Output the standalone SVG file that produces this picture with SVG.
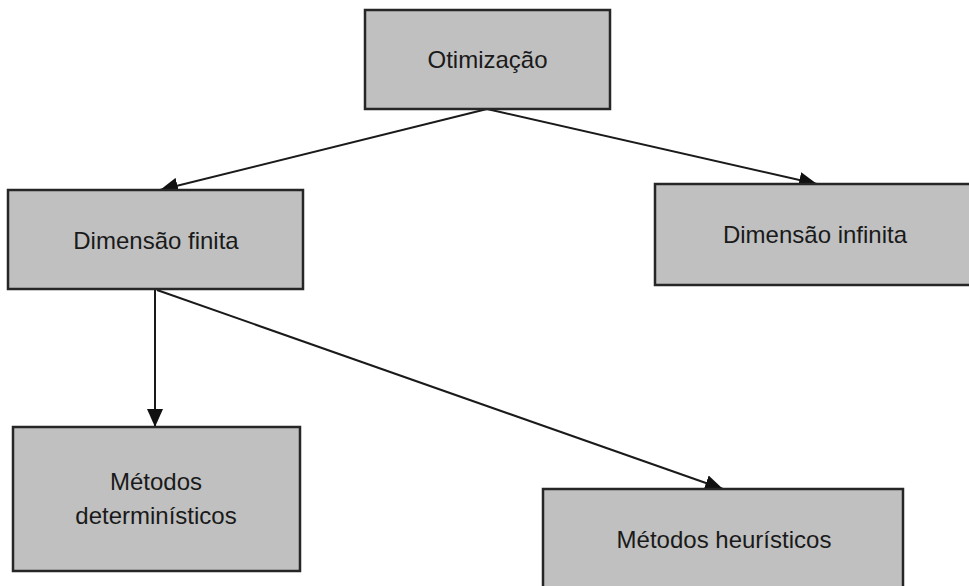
<svg xmlns="http://www.w3.org/2000/svg" width="969" height="586" viewBox="0 0 969 586">
<style>
.box{fill:#c0c0c0;stroke:#262626;stroke-width:2.5}
.lbl{font-family:"Liberation Sans",Arial,sans-serif;font-size:24px;fill:#1a1a1a;text-anchor:middle}
.con{stroke:#1a1a1a;stroke-width:2;fill:none;marker-end:url(#ah)}
</style>
<defs>
<marker id="ah" markerUnits="userSpaceOnUse" markerWidth="20" markerHeight="16" refX="18" refY="8" orient="auto">
<path d="M0,0 L18,8 L0,16 Z" fill="#111"/>
</marker>
</defs>
<rect width="969" height="586" fill="#fff"/>
<g id="connectors">
<line class="con" x1="487" y1="109" x2="160" y2="190"/>
<line class="con" x1="487" y1="109" x2="817" y2="184"/>
<line class="con" x1="155" y1="290" x2="155" y2="427"/>
<line class="con" x1="157" y1="290" x2="723" y2="489"/>
</g>
<g id="otimizacao">
<rect class="box" x="365" y="10" width="245" height="99"/>
<text class="lbl" x="487.5" y="68">Otimização</text>
</g>
<g id="dimensao-finita">
<rect class="box" x="8" y="190" width="295" height="99"/>
<text class="lbl" x="156" y="249">Dimensão finita</text>
</g>
<g id="dimensao-infinita">
<rect class="box" x="655" y="184" width="320" height="101"/>
<text class="lbl" x="815" y="243">Dimensão infinita</text>
</g>
<g id="metodos-deterministicos">
<rect class="box" x="13" y="427" width="287" height="144"/>
<text class="lbl" x="156" y="490">Métodos</text>
<text class="lbl" x="156" y="524">determinísticos</text>
</g>
<g id="metodos-heuristicos">
<rect class="box" x="543" y="489" width="360" height="105"/>
<text class="lbl" x="724" y="548">Métodos heurísticos</text>
</g>
</svg>
